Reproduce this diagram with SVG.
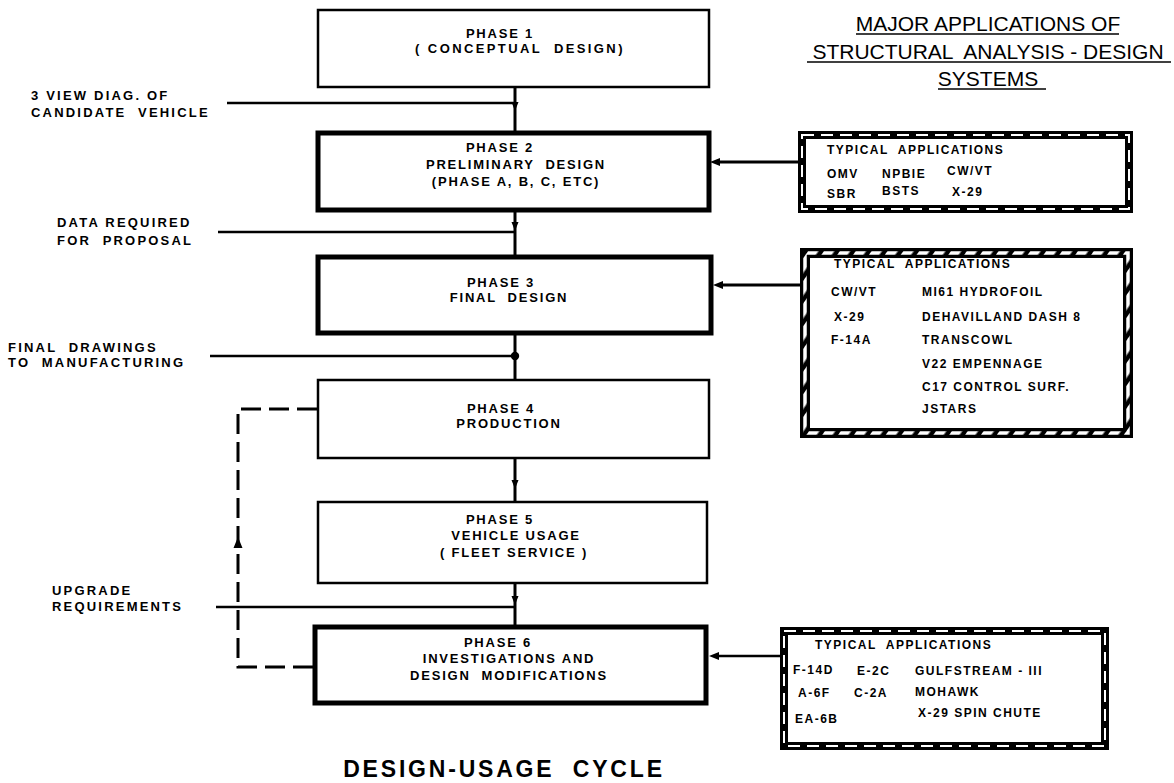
<svg xmlns="http://www.w3.org/2000/svg" width="1174" height="783" viewBox="0 0 1174 783">
<style>
text{font-family:"Liberation Sans",Arial,Helvetica,sans-serif;fill:#000}
.ph{font-size:13px;font-weight:bold;letter-spacing:1.8px;text-anchor:middle}
.lb{font-size:13px;font-weight:bold;letter-spacing:2.2px}
.ap{font-size:12px;font-weight:bold;letter-spacing:1.5px}
.tt{font-size:21px;text-anchor:middle}
.ft{font-size:23px;font-weight:bold;letter-spacing:2.8px;text-anchor:middle}
.thin{fill:#fff;stroke:#000;stroke-width:2.5}
.thick{fill:#fff;stroke:#000;stroke-width:5}
.line{fill:none;stroke:#000;stroke-width:2.5}
.vline{fill:none;stroke:#000;stroke-width:3}
.dash{fill:none;stroke:#000;stroke-width:3;stroke-dasharray:20 8}
.frameA{fill:#fff;stroke:#000;stroke-width:8}
.frameAd{fill:none;stroke:#fff;stroke-width:2;stroke-dasharray:12 7}
.frameB{fill:#fff;stroke:#000;stroke-width:10}
.frameBd{fill:none;stroke:url(#hatch);stroke-width:3.5}
.ul{stroke:#000;stroke-width:1.6}
</style>
<defs>
<pattern id="hatch" patternUnits="userSpaceOnUse" width="13" height="13" patternTransform="rotate(35)">
<rect width="13" height="13" fill="#000"/>
<rect width="8.5" height="13" fill="#fff"/>
</pattern>
<path id="ahDown" d="M-3.5,-9 L3.5,-9 L0,0 Z" fill="#000"/>
<path id="ahLeft" d="M0,0 L10,-4 L10,4 Z" fill="#000"/>
<path id="ahUp" d="M0,0 L-4.5,11 L4.5,11 Z" fill="#000"/>
</defs>
<rect width="1174" height="783" fill="#fff"/>

<g id="title">
<text class="tt" x="988" y="31">MAJOR APPLICATIONS OF</text>
<line class="ul" x1="856" y1="34" x2="1119" y2="34"/>
<text class="tt" x="988" y="59" xml:space="preserve">STRUCTURAL  ANALYSIS - DESIGN</text>
<line class="ul" x1="807" y1="62" x2="1171" y2="62"/>
<text class="tt" x="988" y="86">SYSTEMS</text>
<line class="ul" x1="938" y1="89" x2="1046" y2="89"/>
</g>

<g id="connectors">
<line class="vline" x1="515" y1="87" x2="515" y2="133"/>
<line class="vline" x1="515" y1="210" x2="515" y2="257"/>
<line class="vline" x1="515" y1="333" x2="515" y2="380"/>
<line class="vline" x1="515" y1="458" x2="515" y2="502"/>
<line class="vline" x1="515" y1="583" x2="515" y2="627"/>
<line class="line" x1="227" y1="103" x2="515" y2="103"/>
<line class="line" x1="218" y1="232" x2="515" y2="232"/>
<line class="line" x1="210" y1="356" x2="515" y2="356"/>
<line class="line" x1="216" y1="607" x2="515" y2="607"/>
<use href="#ahDown" x="515" y="111"/>
<use href="#ahDown" x="515" y="231"/>
<circle cx="515" cy="356" r="4.2" fill="#000"/>
<use href="#ahDown" x="515" y="489"/>
<use href="#ahDown" x="515" y="605"/>
<line class="vline" x1="798" y1="162" x2="715" y2="162"/>
<use href="#ahLeft" x="710" y="162"/>
<line class="vline" x1="800" y1="285" x2="718" y2="285"/>
<use href="#ahLeft" x="713" y="285"/>
<line class="line" x1="780" y1="656" x2="717" y2="656"/>
<use href="#ahLeft" x="709" y="656"/>
<path class="dash" d="M317,409 H238 V667 H313"/>
<use href="#ahUp" x="238" y="537"/>
</g>

<g id="label-3view">
<text class="lb" x="31" y="100">3 VIEW DIAG. OF</text>
<text class="lb" x="31" y="117" xml:space="preserve">CANDIDATE  VEHICLE</text>
</g>
<g id="label-data">
<text class="lb" x="57" y="227">DATA REQUIRED</text>
<text class="lb" x="57" y="245" xml:space="preserve">FOR  PROPOSAL</text>
</g>
<g id="label-final">
<text class="lb" x="8" y="352" xml:space="preserve">FINAL  DRAWINGS</text>
<text class="lb" x="8" y="367" xml:space="preserve">TO  MANUFACTURING</text>
</g>
<g id="label-upgrade">
<text class="lb" x="52" y="595">UPGRADE</text>
<text class="lb" x="52" y="611">REQUIREMENTS</text>
</g>

<g id="phase1">
<rect class="thin" x="318" y="10" width="391" height="77"/>
<text class="ph" x="500" y="38">PHASE 1</text>
<text class="ph" x="520" y="53" xml:space="preserve" style="letter-spacing:2.4px">( CONCEPTUAL  DESIGN)</text>
</g>
<g id="phase2">
<rect class="thick" x="318" y="133" width="391" height="77"/>
<text class="ph" x="500" y="152">PHASE 2</text>
<text class="ph" x="516" y="169" xml:space="preserve">PRELIMINARY  DESIGN</text>
<text class="ph" x="516" y="186">(PHASE A, B, C, ETC)</text>
</g>
<g id="phase3">
<rect class="thick" x="318" y="257" width="393" height="76"/>
<text class="ph" x="501" y="287">PHASE 3</text>
<text class="ph" x="509" y="302" xml:space="preserve">FINAL  DESIGN</text>
</g>
<g id="phase4">
<rect class="thin" x="318" y="380" width="391" height="78"/>
<text class="ph" x="501" y="413">PHASE 4</text>
<text class="ph" x="509" y="428">PRODUCTION</text>
</g>
<g id="phase5">
<rect class="thin" x="318" y="502" width="389" height="81"/>
<text class="ph" x="500" y="524">PHASE 5</text>
<text class="ph" x="516" y="540">VEHICLE USAGE</text>
<text class="ph" x="514" y="557">( FLEET SERVICE )</text>
</g>
<g id="phase6">
<rect class="thick" x="315" y="627" width="391" height="76"/>
<text class="ph" x="498" y="647">PHASE 6</text>
<text class="ph" x="509" y="663">INVESTIGATIONS AND</text>
<text class="ph" x="509" y="680" xml:space="preserve">DESIGN  MODIFICATIONS</text>
</g>

<g id="apps-phase2">
<rect class="frameA" x="802" y="135" width="327" height="74"/>
<rect class="frameAd" x="802" y="135" width="327" height="74"/>
<text class="ap" x="827" y="154" xml:space="preserve">TYPICAL  APPLICATIONS</text>
<text class="ap" x="827" y="178">OMV</text>
<text class="ap" x="882" y="178">NPBIE</text>
<text class="ap" x="947" y="175">CW/VT</text>
<text class="ap" x="827" y="198">SBR</text>
<text class="ap" x="882" y="195">BSTS</text>
<text class="ap" x="952" y="196">X-29</text>
</g>
<g id="apps-phase3">
<rect class="frameB" x="805" y="253" width="323" height="180"/>
<rect class="frameBd" x="805" y="253" width="323" height="180"/>
<text class="ap" x="834" y="268" xml:space="preserve">TYPICAL  APPLICATIONS</text>
<text class="ap" x="831" y="296">CW/VT</text>
<text class="ap" x="922" y="296">MI61 HYDROFOIL</text>
<text class="ap" x="834" y="321">X-29</text>
<text class="ap" x="922" y="321">DEHAVILLAND DASH 8</text>
<text class="ap" x="831" y="344">F-14A</text>
<text class="ap" x="922" y="344">TRANSCOWL</text>
<text class="ap" x="922" y="368">V22 EMPENNAGE</text>
<text class="ap" x="922" y="391">C17 CONTROL SURF.</text>
<text class="ap" x="922" y="413">JSTARS</text>
</g>
<g id="apps-phase6">
<rect class="frameA" x="784" y="631" width="321" height="115"/>
<rect class="frameAd" x="784" y="631" width="321" height="115"/>
<text class="ap" x="815" y="649" xml:space="preserve">TYPICAL  APPLICATIONS</text>
<text class="ap" x="793" y="674">F-14D</text>
<text class="ap" x="857" y="675">E-2C</text>
<text class="ap" x="915" y="675">GULFSTREAM - III</text>
<text class="ap" x="798" y="697">A-6F</text>
<text class="ap" x="854" y="697">C-2A</text>
<text class="ap" x="915" y="696">MOHAWK</text>
<text class="ap" x="918" y="717">X-29 SPIN CHUTE</text>
<text class="ap" x="795" y="723">EA-6B</text>
</g>

<g id="caption">
<text class="ft" x="504" y="777" xml:space="preserve">DESIGN-USAGE  CYCLE</text>
</g>
</svg>
